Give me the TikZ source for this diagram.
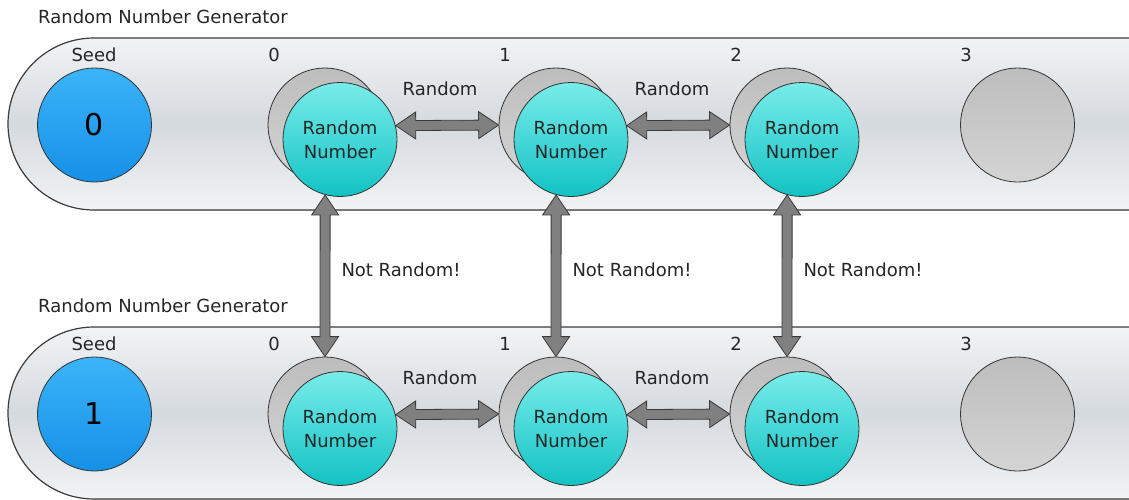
\documentclass[tikz,border=0pt]{standalone}
\usepackage{fontspec}
\setmainfont{DejaVu Sans}
\usetikzlibrary{calc}
\definecolor{bandmid}{HTML}{D5DADF}
\definecolor{bandsoft}{HTML}{F5F6F7}
\definecolor{seedtop}{HTML}{3CB4FA}
\definecolor{seedbot}{HTML}{1590E6}
\definecolor{rntop}{HTML}{78ECEA}
\definecolor{rnbot}{HTML}{12C2C4}
\definecolor{graytop}{HTML}{BDBDBD}
\definecolor{graybot}{HTML}{D4D4D4}
\definecolor{arrowfill}{HTML}{808080}
\definecolor{arrowline}{HTML}{3A3A3A}
\definecolor{linecol}{HTML}{3C3C3C}
\pgfdeclareverticalshading{band}{100bp}{color(0bp)=(white); color(22bp)=(bandsoft); color(50bp)=(bandmid); color(78bp)=(bandsoft); color(100bp)=(white)}
\newcommand\fatarrow[2]{%
  \filldraw[fatarrowstyle] (#1)
    -- ($(#1)!20pt!(#2)!13.5pt!90:(#2)$)
    -- ($(#1)!20pt!(#2)!5pt!90:(#2)$)
    -- ($(#2)!20pt!(#1)!5pt!-90:(#1)$)
    -- ($(#2)!20pt!(#1)!13.5pt!-90:(#1)$)
    -- (#2)
    -- ($(#2)!20pt!(#1)!13.5pt!90:(#1)$)
    -- ($(#2)!20pt!(#1)!5pt!90:(#1)$)
    -- ($(#1)!20pt!(#2)!5pt!-90:(#2)$)
    -- ($(#1)!20pt!(#2)!13.5pt!-90:(#2)$)
    -- cycle;}
\tikzset{
  lbl/.style={font=\fontsize{18}{20}\selectfont, text=black!85, inner sep=0pt},
  circ/.style={circle, minimum size=114pt, inner sep=0pt, draw=black!80, line width=0.8pt},
  seednode/.style={circ, top color=seedtop, bottom color=seedbot, font=\fontsize{30}{32}\selectfont},
  rnnode/.style={circ, top color=rntop, bottom color=rnbot, align=center, text=black!85, font=\fontsize{18}{24}\selectfont},
  backnode/.style={circ, top color=graytop, bottom color=graybot},
  bandline/.style={draw=linecol, line width=1.2pt},
  fatarrowstyle/.style={fill=arrowfill, draw=arrowline, line width=0.8pt, line join=miter},
}
\begin{document}
\begin{tikzpicture}[x=1pt,y=1pt]
\useasboundingbox (0,0) rectangle (1129,-499);
\clip (0,0) rectangle (1129,-499);
\fill[white] (0,0) rectangle (1129,-499);
\foreach \r/\dy/\s in {t/0/0,b/289/1}{
  \begin{scope}[yshift=-\dy pt]
    \fill[shading=band] (1140,-38) -- (94,-38) arc[start angle=90,end angle=270,radius=86] -- (1140,-210) -- cycle;
    \draw[bandline] (1140,-38) -- (94,-38) arc[start angle=90,end angle=270,radius=86] -- (1140,-210);
    \node[lbl, anchor=west] (gen\r) at (38,-17) {Random Number Generator};
    \node[lbl] (seedlbl\r) at (94,-55) {Seed};
    \node[seednode] (seed\r) at (94.5,-125) {\s};
    \foreach \i/\x in {0/0,1/231,2/462}{
      \node[backnode] (g\i\r) at (325+\x,-125) {};
      \node[rnnode] (c\i\r) at (340+\x,-139.5) {Random\\Number};
      \node[lbl] (idx\i\r) at (274+\x,-55) {\i};
    }
    \node[backnode] (g3\r) at (1017.5,-125) {};
    \node[lbl] (idx3\r) at (966,-55) {3};
    \node[lbl] (rl1\r) at (440,-89) {Random};
    \node[lbl] (rl2\r) at (672,-89) {Random};
  \end{scope}
}
\fatarrow{c0t.14.6}{g1t.west}
\fatarrow{c1t.14.6}{g2t.west}
\fatarrow{c0b.14.6}{g1b.west}
\fatarrow{c1b.14.6}{g2b.west}
\fatarrow{c0t.-105}{g0b.north}
\fatarrow{c1t.-105}{g1b.north}
\fatarrow{c2t.-105}{g2b.north}
\node[lbl] (nr0) at (401,-270) {Not Random!};
\node[lbl] (nr1) at (632,-270) {Not Random!};
\node[lbl] (nr2) at (863,-270) {Not Random!};
\end{tikzpicture}
\end{document}
